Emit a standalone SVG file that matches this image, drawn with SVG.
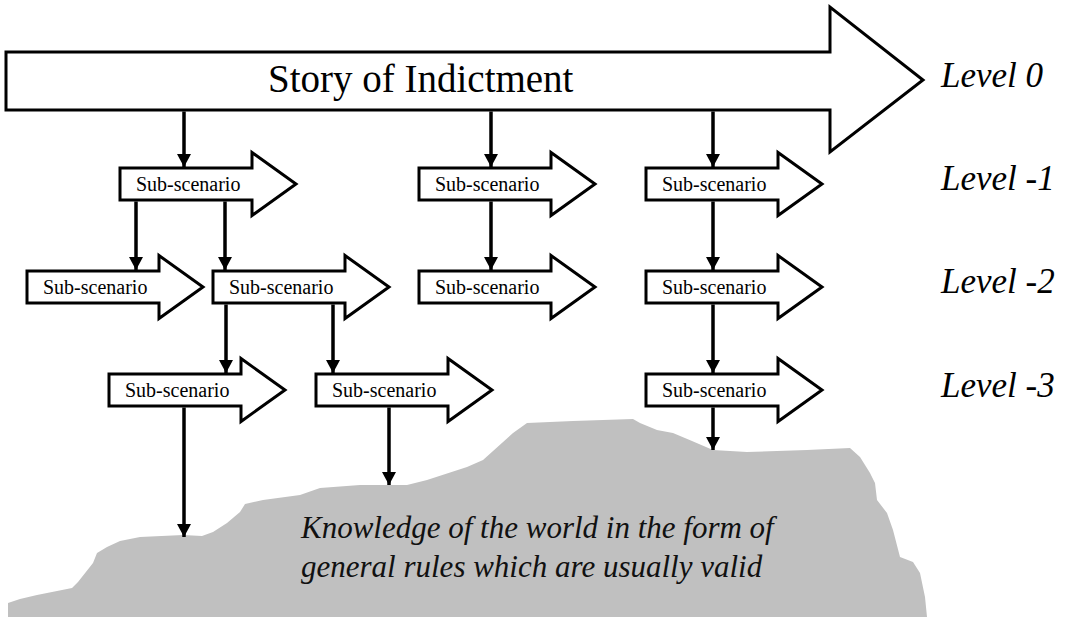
<svg xmlns="http://www.w3.org/2000/svg" width="1070" height="617" viewBox="0 0 1070 617">
<style>
.arrow{fill:#fff;stroke:#000;stroke-width:3;stroke-linejoin:miter}
.conn{stroke:#000;stroke-width:3.5;fill:none}
</style>
<defs>
<marker id="ah" markerUnits="userSpaceOnUse" markerWidth="14" markerHeight="14" viewBox="0 0 14 14" refX="13" refY="7" orient="auto">
<path d="M0,0 L13,7 L0,14 Z" fill="#000"/>
</marker>
<path id="sub" d="M0,-16 H132 V-31.5 L176,0 L132,31.5 V16 H0 Z"/>
</defs>
<rect width="1070" height="617" fill="#fff"/>
<g id="world" font-family="Liberation Serif, serif" font-style="italic" font-size="31" fill="#111">
<path fill="#c0c0c0" d="M8,617 L8,603 L20,599 L37,595 L72,588 L78,582 L93,563 L97,553 L107,547 L120,541 L140,537 L183,535 L202,536 L213,532 L227,523 L240,512 L245,504 L263,500 L300,495 L320,488 L360,485 L407,485 L427,480 L467,467 L483,460 L513,433 L527,423 L573,421 L633,419 L640,423 L657,430 L673,433 L692,441 L713,450 L747,452 L807,450 L850,448 L860,457 L870,473 L875,483 L877,500 L887,513 L893,530 L900,557 L913,562 L920,573 L925,597 L927,617 Z"/>
<text x="301" y="538">Knowledge of the world in the form of</text>
<text x="301" y="577">general rules which are usually valid</text>
</g>
<g id="story">
<path class="arrow" d="M6,52 H830 V7 L923,80 L830,152 V110 H6 Z"/>
<text x="268" y="92" font-family="Liberation Serif, serif" font-size="39">Story of Indictment</text>
</g>
<g id="levels" font-family="Liberation Serif, serif" font-style="italic" font-size="35">
<text x="941" y="87">Level 0</text>
<text x="941" y="190">Level -1</text>
<text x="941" y="293">Level -2</text>
<text x="941" y="397">Level -3</text>
</g>
<g font-family="Liberation Serif, serif" font-size="20">
<g id="s1a" transform="translate(120,184)"><use href="#sub" class="arrow"/><text x="16" y="7">Sub-scenario</text></g>
<g id="s1b" transform="translate(419,184)"><use href="#sub" class="arrow"/><text x="16" y="7">Sub-scenario</text></g>
<g id="s1c" transform="translate(646,184)"><use href="#sub" class="arrow"/><text x="16" y="7">Sub-scenario</text></g>
<g id="s2a" transform="translate(27,287)"><use href="#sub" class="arrow"/><text x="16" y="7">Sub-scenario</text></g>
<g id="s2b" transform="translate(213,287)"><use href="#sub" class="arrow"/><text x="16" y="7">Sub-scenario</text></g>
<g id="s2c" transform="translate(419,287)"><use href="#sub" class="arrow"/><text x="16" y="7">Sub-scenario</text></g>
<g id="s2d" transform="translate(646,287)"><use href="#sub" class="arrow"/><text x="16" y="7">Sub-scenario</text></g>
<g id="s3a" transform="translate(109,390)"><use href="#sub" class="arrow"/><text x="16" y="7">Sub-scenario</text></g>
<g id="s3b" transform="translate(316,390)"><use href="#sub" class="arrow"/><text x="16" y="7">Sub-scenario</text></g>
<g id="s3c" transform="translate(646,390)"><use href="#sub" class="arrow"/><text x="16" y="7">Sub-scenario</text></g>
</g>
<g id="connectors" class="conn">
<path d="M184,111.5 V167" marker-end="url(#ah)"/>
<path d="M491,111.5 V167" marker-end="url(#ah)"/>
<path d="M713,111.5 V167" marker-end="url(#ah)"/>
<path d="M136,201.5 V270" marker-end="url(#ah)"/>
<path d="M225,201.5 V270" marker-end="url(#ah)"/>
<path d="M491,201.5 V270" marker-end="url(#ah)"/>
<path d="M713,201.5 V270" marker-end="url(#ah)"/>
<path d="M226,304.5 V373" marker-end="url(#ah)"/>
<path d="M333,304.5 V373" marker-end="url(#ah)"/>
<path d="M713,304.5 V373" marker-end="url(#ah)"/>
<path d="M184,407.5 V537" marker-end="url(#ah)"/>
<path d="M389,407.5 V485" marker-end="url(#ah)"/>
<path d="M713,407.5 V450" marker-end="url(#ah)"/>
</g>
</svg>
